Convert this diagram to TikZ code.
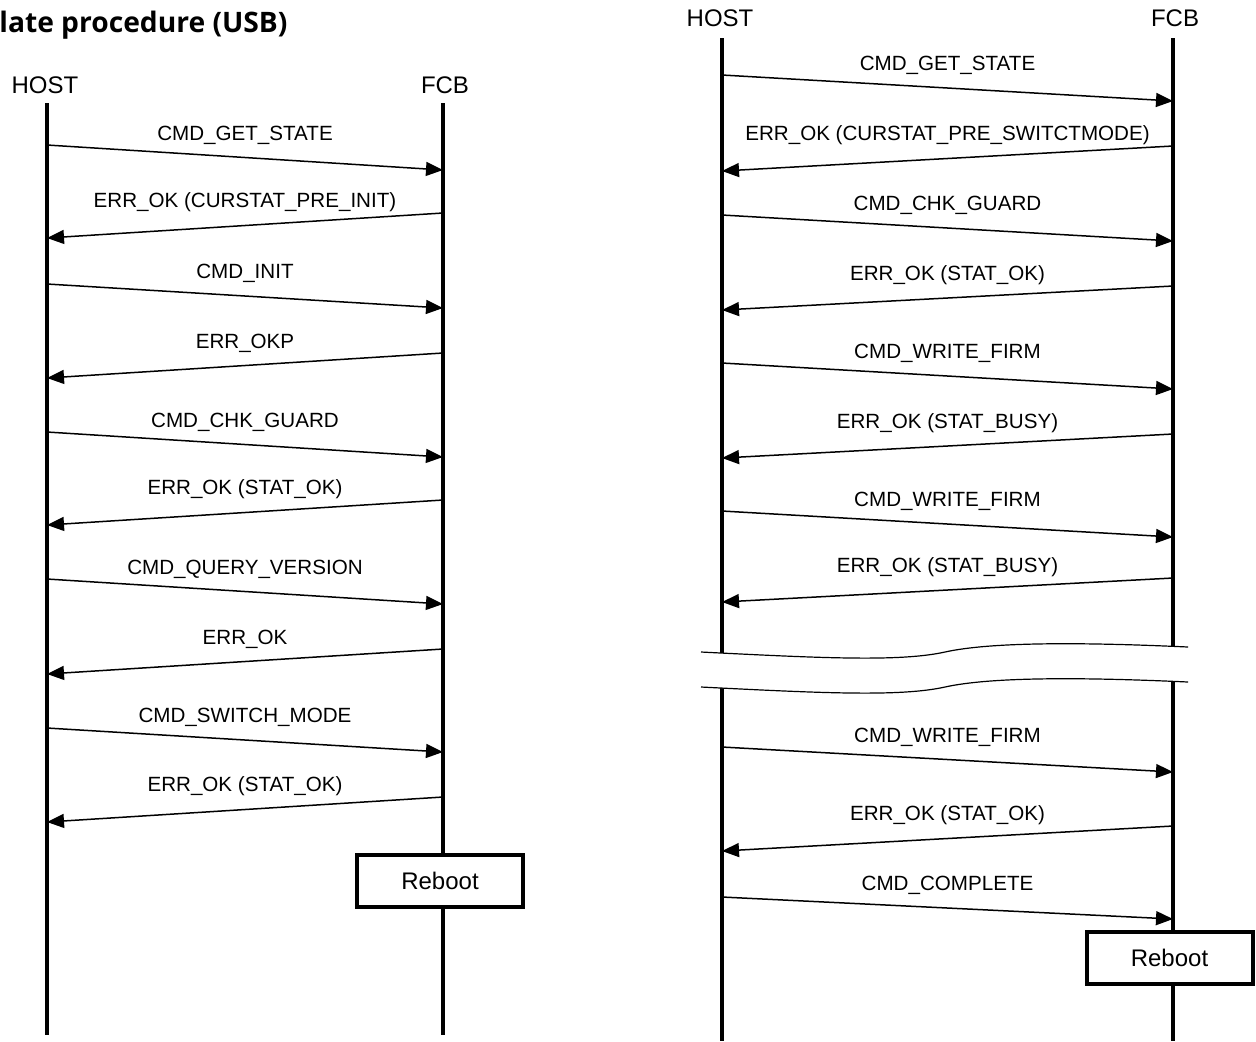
\documentclass[tikz,border=0pt]{standalone}
\usepackage{fontspec}
\setmainfont{Liberation Sans}
\newfontfamily\titlefont{Open Sans}
\usetikzlibrary{arrows.meta, positioning}

\begin{document}
\begin{tikzpicture}[
  x=0.5pt, y=-0.5pt,
  actor/.style={font=\fontsize{12}{14}\selectfont, inner sep=2pt},
  life/.style={line width=2pt},
  msg/.style={-{Triangle[length=8.5pt, width=7pt]}, line width=0.75pt},
  lbl/.style={midway, above=3pt, font=\fontsize{10.3}{12}\selectfont},
  rebootbox/.style={draw, line width=2pt, fill=white, minimum width=83pt,
                    minimum height=26pt, font=\fontsize{12}{14}\selectfont},
  cut/.style={line width=0.6pt}
]
\useasboundingbox (0,0) rectangle (1256,1041);

\node[anchor=base west, inner sep=0, font=\titlefont\bfseries\fontsize{14.1}{17}\selectfont] (title) at (-1,32) {late procedure (USB)};

% left: host / fcb
\node[actor] (hostL) at (45,85) {HOST};
\node[actor] (fcbL) at (445,85) {FCB};
\coordinate (hostLtop) at (47,103);
\coordinate (hostLend) at (47,1035);
\coordinate (fcbLtop) at (443,103);
\coordinate (fcbLend) at (443,1035);
\draw[life] (hostLtop) -- (hostLend);
\draw[life] (fcbLtop) -- (fcbLend);

\coordinate (l1a) at (47,145);  \coordinate (l1b) at (443,170);
\coordinate (l2a) at (443,213); \coordinate (l2b) at (47,238);
\coordinate (l3a) at (47,284);  \coordinate (l3b) at (443,308);
\coordinate (l4a) at (443,353); \coordinate (l4b) at (47,378);
\coordinate (l5a) at (47,432);  \coordinate (l5b) at (443,457);
\coordinate (l6a) at (443,500); \coordinate (l6b) at (47,525);
\coordinate (l7a) at (47,579);  \coordinate (l7b) at (443,604);
\coordinate (l8a) at (443,649); \coordinate (l8b) at (47,674);
\coordinate (l9a) at (47,728);  \coordinate (l9b) at (443,752);
\coordinate (l10a) at (443,797); \coordinate (l10b) at (47,822);

\draw[msg] (l1a) -- node[lbl] {CMD\_GET\_STATE} (l1b);
\draw[msg] (l2a) -- node[lbl] {ERR\_OK (CURSTAT\_PRE\_INIT)} (l2b);
\draw[msg] (l3a) -- node[lbl] {CMD\_INIT} (l3b);
\draw[msg] (l4a) -- node[lbl] {ERR\_OKP} (l4b);
\draw[msg] (l5a) -- node[lbl] {CMD\_CHK\_GUARD} (l5b);
\draw[msg] (l6a) -- node[lbl] {ERR\_OK (STAT\_OK)} (l6b);
\draw[msg] (l7a) -- node[lbl] {CMD\_QUERY\_VERSION} (l7b);
\draw[msg] (l8a) -- node[lbl] {ERR\_OK} (l8b);
\draw[msg] (l9a) -- node[lbl] {CMD\_SWITCH\_MODE} (l9b);
\draw[msg] (l10a) -- node[lbl] {ERR\_OK (STAT\_OK)} (l10b);

\node[rebootbox] (rebootL) at (440,881) {Reboot};

% right: host / fcb
\node[actor] (hostR) at (720,18) {HOST};
\node[actor] (fcbR) at (1175,18) {FCB};
\coordinate (hostRtop) at (722,38);
\coordinate (hostRend) at (722,1041);
\coordinate (fcbRtop) at (1173,38);
\coordinate (fcbRend) at (1173,1041);
\draw[life] (hostRtop) -- (hostRend);
\draw[life] (fcbRtop) -- (fcbRend);

\coordinate (r1a) at (722,75);   \coordinate (r1b) at (1173,101);
\coordinate (r2a) at (1173,146); \coordinate (r2b) at (722,171);
\coordinate (r3a) at (722,215);  \coordinate (r3b) at (1173,241);
\coordinate (r4a) at (1173,286); \coordinate (r4b) at (722,310);
\coordinate (r5a) at (722,363);  \coordinate (r5b) at (1173,389);
\coordinate (r6a) at (1173,434); \coordinate (r6b) at (722,458);
\coordinate (r7a) at (722,511);  \coordinate (r7b) at (1173,537);
\coordinate (r8a) at (1173,578); \coordinate (r8b) at (722,602);
\coordinate (r9a) at (722,747);  \coordinate (r9b) at (1173,772);
\coordinate (r10a) at (1173,826); \coordinate (r10b) at (722,851);
\coordinate (r11a) at (722,897); \coordinate (r11b) at (1173,919);

\draw[msg] (r1a) -- node[lbl] {CMD\_GET\_STATE} (r1b);
\draw[msg] (r2a) -- node[lbl] {ERR\_OK (CURSTAT\_PRE\_SWITCTMODE)} (r2b);
\draw[msg] (r3a) -- node[lbl] {CMD\_CHK\_GUARD} (r3b);
\draw[msg] (r4a) -- node[lbl] {ERR\_OK (STAT\_OK)} (r4b);
\draw[msg] (r5a) -- node[lbl] {CMD\_WRITE\_FIRM} (r5b);
\draw[msg] (r6a) -- node[lbl] {ERR\_OK (STAT\_BUSY)} (r6b);
\draw[msg] (r7a) -- node[lbl] {CMD\_WRITE\_FIRM} (r7b);
\draw[msg] (r8a) -- node[lbl] {ERR\_OK (STAT\_BUSY)} (r8b);
\draw[msg] (r9a) -- node[lbl] {CMD\_WRITE\_FIRM} (r9b);
\draw[msg] (r10a) -- node[lbl] {ERR\_OK (STAT\_OK)} (r10b);
\draw[msg] (r11a) -- node[lbl] {CMD\_COMPLETE} (r11b);

% break in the lifelines
\fill[white] (701,652) .. controls (820,658) and (900,662) .. (945,652)
  .. controls (990,642) and (1080,642) .. (1188,647) -- (1188,682)
  .. controls (1080,677) and (990,677) .. (945,687)
  .. controls (900,697) and (820,693) .. (701,687) -- cycle;
\draw[cut] (701,652) .. controls (820,658) and (900,662) .. (945,652)
  .. controls (990,642) and (1080,642) .. (1188,647);
\draw[cut] (701,687) .. controls (820,693) and (900,697) .. (945,687)
  .. controls (990,677) and (1080,677) .. (1188,682);

\node[rebootbox] (rebootR) at (1169.5,958) {Reboot};
\end{tikzpicture}
\end{document}
